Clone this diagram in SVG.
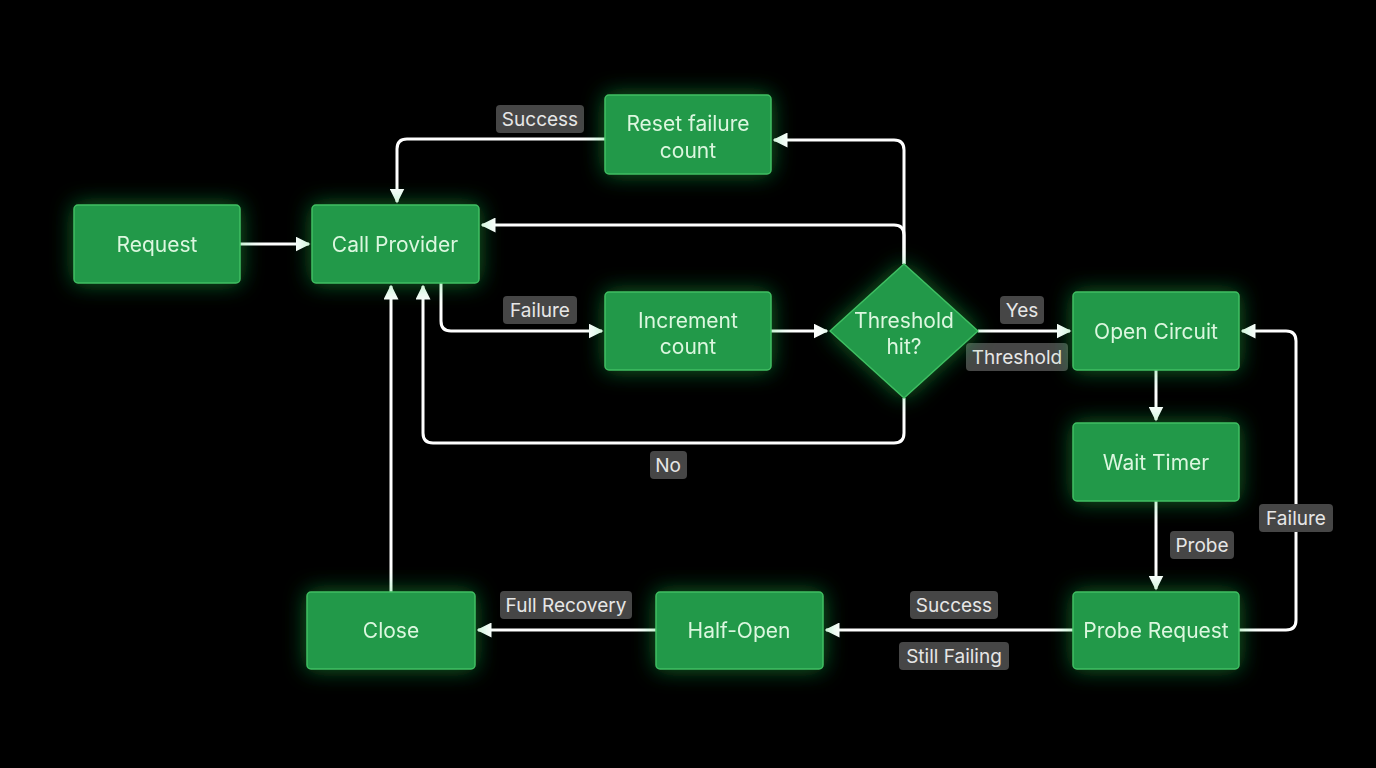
<svg xmlns="http://www.w3.org/2000/svg" width="1376" height="768" viewBox="0 0 1376 768">
<defs>
<filter id="glow" x="-50%" y="-50%" width="200%" height="200%">
<feGaussianBlur in="SourceAlpha" stdDeviation="11" result="b"/>
<feFlood flood-color="#1fcf4f" flood-opacity="0.5"/>
<feComposite in2="b" operator="in" result="g"/>
<feMerge><feMergeNode in="g"/><feMergeNode in="SourceGraphic"/></feMerge>
</filter>
<marker id="arr" viewBox="0 0 10 10" refX="9" refY="5" markerWidth="5" markerHeight="5" orient="auto" markerUnits="strokeWidth">
<path d="M0,0 L10,5 L0,10 Z" fill="#ffffff"/>
</marker>
<style>
.node rect, .node polygon { fill:#22994a; stroke:#3fbf62; stroke-width:1.5; }
.node text { fill:#dcf7df; font-family:Inter, "Noto Sans", sans-serif; font-size:21px; text-anchor:middle; dominant-baseline:central; }
.edge { fill:none; stroke:#ffffff; stroke-width:3; stroke-linejoin:round; marker-end:url(#arr); }
.lbl rect { fill:#464646; }
.lbl text { fill:#e6e6e6; font-family:Inter, "Noto Sans", sans-serif; font-size:19px; text-anchor:middle; dominant-baseline:central; }
</style>
</defs>
<rect width="1376" height="768" fill="#000000"/>

<g id="connectors">
<path class="edge" d="M240,244 H309"/>
<path class="edge" d="M605,139 H407 Q397,139 397,149 V202"/>
<path class="edge" d="M904,264 V150 Q904,140 894,140 H774"/>
<path class="edge" d="M904,264 V235 Q904,225 894,225 H482"/>
<path class="edge" d="M441,283 V321 Q441,331 451,331 H602"/>
<path class="edge" d="M771,331 H827"/>
<path class="edge" d="M978,331 H1070"/>
<path class="edge" d="M904,398 V433 Q904,443 894,443 H433 Q423,443 423,433 V286"/>
<path class="edge" d="M391,592 V286"/>
<path class="edge" d="M1156,370 V420"/>
<path class="edge" d="M1156,501 V589"/>
<path class="edge" d="M1239,630 H1286 Q1296,630 1296,620 V341 Q1296,331 1286,331 H1242"/>
<path class="edge" d="M1073,630 H826"/>
<path class="edge" d="M656,630 H478"/>
</g>

<g id="labels">
<g class="lbl"><rect x="496" y="105" width="88" height="28" rx="4"/><text x="540" y="119">Success</text></g>
<g class="lbl"><rect x="503" y="296" width="74" height="28" rx="4"/><text x="540" y="310">Failure</text></g>
<g class="lbl"><rect x="1000" y="296" width="44" height="28" rx="4"/><text x="1022" y="310">Yes</text></g>
<g class="lbl"><rect x="966" y="343" width="102" height="28" rx="4"/><text x="1017" y="357">Threshold</text></g>
<g class="lbl"><rect x="650" y="451" width="37" height="28" rx="4"/><text x="668" y="465">No</text></g>
<g class="lbl"><rect x="1170" y="531" width="64" height="28" rx="4"/><text x="1202" y="545">Probe</text></g>
<g class="lbl"><rect x="1259" y="504" width="74" height="28" rx="4"/><text x="1296" y="518">Failure</text></g>
<g class="lbl"><rect x="500" y="591" width="132" height="28" rx="4"/><text x="566" y="605">Full Recovery</text></g>
<g class="lbl"><rect x="910" y="591" width="88" height="28" rx="4"/><text x="954" y="605">Success</text></g>
<g class="lbl"><rect x="899" y="642" width="110" height="28" rx="4"/><text x="954" y="656">Still Failing</text></g>
</g>

<g id="request" class="node" filter="url(#glow)"><rect x="74" y="205" width="166" height="78" rx="4"/><text x="157" y="244">Request</text></g>
<g id="call-provider" class="node" filter="url(#glow)"><rect x="312" y="205" width="167" height="78" rx="4"/><text x="395" y="244">Call Provider</text></g>
<g id="reset-failure" class="node" filter="url(#glow)"><rect x="605" y="95" width="166" height="79" rx="4"/><text x="688" y="123">Reset failure</text><text x="688" y="150">count</text></g>
<g id="increment-count" class="node" filter="url(#glow)"><rect x="605" y="292" width="166" height="78" rx="4"/><text x="688" y="320">Increment</text><text x="688" y="346">count</text></g>
<g id="threshold-hit" class="node" filter="url(#glow)"><polygon points="904,264 978,331 904,398 830,331" stroke-linejoin="round"/><text x="904" y="320">Threshold</text><text x="904" y="346">hit?</text></g>
<g id="open-circuit" class="node" filter="url(#glow)"><rect x="1073" y="292" width="166" height="78" rx="4"/><text x="1156" y="331">Open Circuit</text></g>
<g id="wait-timer" class="node" filter="url(#glow)"><rect x="1073" y="423" width="166" height="78" rx="4"/><text x="1156" y="462">Wait Timer</text></g>
<g id="probe-request" class="node" filter="url(#glow)"><rect x="1073" y="592" width="166" height="77" rx="4"/><text x="1156" y="630">Probe Request</text></g>
<g id="half-open" class="node" filter="url(#glow)"><rect x="656" y="592" width="167" height="77" rx="4"/><text x="739" y="630">Half-Open</text></g>
<g id="close" class="node" filter="url(#glow)"><rect x="307" y="592" width="168" height="77" rx="4"/><text x="391" y="630">Close</text></g>
</svg>
